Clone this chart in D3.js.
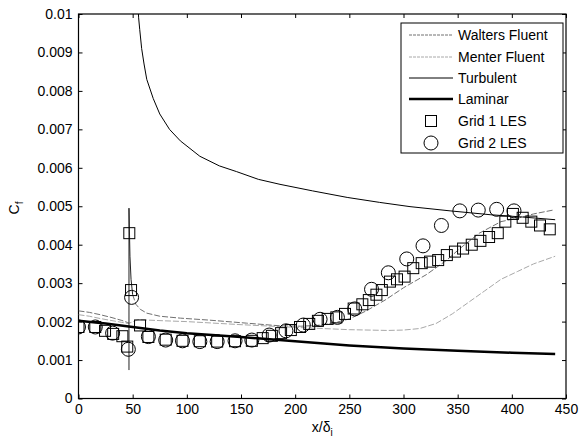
<!DOCTYPE html>
<html>
<head>
<meta charset="utf-8">
<script src="https://cdn.jsdelivr.net/npm/d3@7"></script>
<style>
  body { margin: 0; background: #fff; }
  svg text { font-family: Arial, "Liberation Sans", sans-serif; fill: #000; }
</style>
</head>
<body>
<svg id="chart" width="580" height="443"></svg>
<script>
// Axis ticks
const xTicks = [0, 50, 100, 150, 200, 250, 300, 350, 400, 450];
const yTicks = [0, 0.001, 0.002, 0.003, 0.004, 0.005, 0.006, 0.007, 0.008, 0.009, 0.01];
const yTickLabels = ["0", "0.001", "0.002", "0.003", "0.004", "0.005", "0.006", "0.007", "0.008", "0.009", "0.01"];

// Walters k-kl-omega (Fluent) skin friction, [x/delta_i, Cf]
const waltersFluent = [
  [0, 0.00228], [10, 0.00224], [20, 0.00218], [30, 0.00211], [40, 0.00203], [45, 0.00198], [46.6, 0.00196]
];
const waltersAfterTrip = [
  [50, 0.0027], [53, 0.00245], [57, 0.00232], [63, 0.00222], [75, 0.00214], [94, 0.00209],
  [120, 0.00204], [155, 0.00196], [186, 0.00189], [205, 0.00188], [220, 0.0019], [235, 0.00196],
  [250, 0.00207], [265, 0.00227], [283, 0.00256], [300, 0.00288], [321, 0.00322], [340, 0.0036],
  [352, 0.0039], [370, 0.0043], [390, 0.0046], [407, 0.0047], [420, 0.0048], [438, 0.0049]
];
// Spike at the trip location
const tripSpike = [
  [46.6, 0.00074], [46.6, 0.00495], [47.5, 0.0037], [48.5, 0.0031], [50, 0.0027]
];
// Menter transition SST (Fluent)
const menterFluent = [
  [0, 0.00218], [10, 0.00214], [20, 0.00208], [30, 0.00203], [40, 0.00198], [46, 0.00195],
  [55, 0.00205], [80, 0.00202], [100, 0.002], [150, 0.00192], [200, 0.00185], [250, 0.00179],
  [285, 0.00177], [300, 0.00178], [315, 0.00182], [330, 0.00195], [345, 0.0022], [360, 0.0025],
  [375, 0.0028], [390, 0.0031], [405, 0.0033], [420, 0.0035], [440, 0.0037]
];
// Turbulent correlation
const turbulent = [
  [55, 0.0102], [55.5, 0.0099], [56.5, 0.0096], [58.3, 0.0091], [60.5, 0.0087], [63, 0.0083],
  [69, 0.0078], [75, 0.0074], [84, 0.0070], [94, 0.0067], [112, 0.0063], [130, 0.00605],
  [146, 0.0059], [166, 0.0057], [186, 0.00557], [216, 0.0054], [248, 0.00523], [278, 0.0051],
  [306, 0.00499], [343, 0.00488], [380, 0.00478], [410, 0.00472], [440, 0.00465]
];
// Laminar correlation
const laminar = [
  [0, 0.00202], [25, 0.00195], [50, 0.00186], [75, 0.00177], [100, 0.0017], [150, 0.0016],
  [200, 0.00149], [250, 0.00138], [300, 0.0013], [350, 0.00124], [400, 0.00119], [440, 0.00116]
];
// LES, grid 1
const grid1X = [0, 15.5, 24.5, 32, 40.5, 45, 46.9, 48.5, 56.8, 64.5, 80.5, 96, 112, 128, 144.5, 160,
  170, 178.5, 187, 196, 204.5, 213, 221, 230, 238, 246, 254, 262, 268, 275, 280, 287.5, 294, 301,
  309, 316.8, 324.5, 332, 340, 347.5, 355, 363, 371, 379, 387, 394, 401, 410, 418, 426, 435];
const grid1Cf = [0.00186, 0.00186, 0.00176, 0.00168, 0.00162, 0.00135, 0.0043, 0.00282, 0.0019, 0.0016,
  0.00153, 0.0015, 0.00149, 0.00148, 0.00149, 0.0015,
  0.00157, 0.00163, 0.0017, 0.00178, 0.00186, 0.00194, 0.00202, 0.00207, 0.00211, 0.0022, 0.00234,
  0.00245, 0.00256, 0.0027, 0.00282, 0.00304, 0.0031, 0.00317, 0.00339, 0.00352, 0.00356, 0.0036,
  0.00373, 0.00382, 0.0039, 0.004, 0.0041, 0.0042, 0.0043, 0.0046, 0.0048, 0.0047, 0.0046, 0.0045, 0.0044];
// LES, grid 2
const grid2X = [0, 15.5, 31.5, 46, 49, 64.5, 80.5, 96, 112, 128, 144.5, 160, 176, 191.5, 207.5, 223,
  239, 255, 270.5, 286, 303, 318, 335, 352, 369, 386, 402];
const grid2Cf = [0.00186, 0.00186, 0.0017, 0.00128, 0.00263, 0.00161, 0.00152, 0.0015, 0.00148, 0.00148,
  0.0015, 0.00152, 0.00165, 0.00176, 0.00191, 0.00206, 0.00211, 0.00233, 0.00284, 0.00327, 0.00363,
  0.00397, 0.0045, 0.00488, 0.0049, 0.00492, 0.00488];

const legendLabels = ["Walters Fluent", "Menter Fluent", "Turbulent", "Laminar", "Grid 1 LES", "Grid 2 LES"];

const svg = d3.select("#chart");
const plot = { left: 78.5, right: 566, top: 14, bottom: 398.5 };

const x = d3.scaleLinear().domain([0, 450]).range([plot.left, plot.right]);
const y = d3.scaleLinear().domain([0, 0.01]).range([plot.bottom, plot.top]);

svg.append("rect").attr("width", 580).attr("height", 443).attr("fill", "#fff");

svg.append("clipPath").attr("id", "clip")
  .append("rect")
  .attr("x", plot.left).attr("y", plot.top)
  .attr("width", plot.right - plot.left).attr("height", plot.bottom - plot.top);

const tickLen = 4;
const fontSize = 14;

// Axes: inward ticks on all four sides, labels on bottom and left
const xAxis = svg.append("g").attr("transform", `translate(0,${plot.bottom})`)
  .call(d3.axisBottom(x).tickValues(xTicks).tickSizeInner(-tickLen).tickSizeOuter(0).tickPadding(6)
    .tickFormat(d3.format("d")));
const yAxis = svg.append("g").attr("transform", `translate(${plot.left},0)`)
  .call(d3.axisLeft(y).tickValues(yTicks).tickSizeInner(-tickLen).tickSizeOuter(0).tickPadding(6)
    .tickFormat((d, i) => yTickLabels[i]));
const xTop = svg.append("g").attr("transform", `translate(0,${plot.top})`)
  .call(d3.axisTop(x).tickValues(xTicks).tickSizeInner(-tickLen).tickSizeOuter(0).tickFormat(""));
const yRight = svg.append("g").attr("transform", `translate(${plot.right},0)`)
  .call(d3.axisRight(y).tickValues(yTicks).tickSizeInner(-tickLen).tickSizeOuter(0).tickFormat(""));

[xAxis, yAxis, xTop, yRight].forEach(g => {
  g.select(".domain").remove();
  g.selectAll("line").attr("stroke", "#000").attr("stroke-width", 1);
  g.selectAll("text").attr("font-size", fontSize).attr("font-family", "Arial, 'Liberation Sans', sans-serif");
});

// Plot frame
svg.append("rect")
  .attr("x", plot.left).attr("y", plot.top)
  .attr("width", plot.right - plot.left).attr("height", plot.bottom - plot.top)
  .attr("fill", "none").attr("stroke", "#000").attr("stroke-width", 1.2);

const line = d3.line().x(d => x(d[0])).y(d => y(d[1]));
const g = svg.append("g").attr("clip-path", "url(#clip)");

const styles = {
  walters: { stroke: "#707070", width: 1, dash: "6,2" },
  menter: { stroke: "#a8a8a8", width: 1, dash: "6,2" },
  turbulent: { stroke: "#000", width: 1, dash: null },
  laminar: { stroke: "#000", width: 2.5, dash: null }
};

function drawLine(data, st) {
  g.append("path").datum(data)
    .attr("d", line).attr("fill", "none")
    .attr("stroke", st.stroke).attr("stroke-width", st.width)
    .attr("stroke-dasharray", st.dash);
}
drawLine(menterFluent, styles.menter);
drawLine(waltersFluent, styles.walters);
drawLine(waltersAfterTrip, styles.walters);
drawLine(tripSpike, { stroke: "#222", width: 1, dash: null });
drawLine(turbulent, styles.turbulent);
drawLine(laminar, styles.laminar);

const sq = 11;
g.selectAll("rect.g1").data(d3.zip(grid1X, grid1Cf)).join("rect")
  .attr("class", "g1")
  .attr("x", d => x(d[0]) - sq / 2).attr("y", d => y(d[1]) - sq / 2)
  .attr("width", sq).attr("height", sq)
  .attr("fill", "none").attr("stroke", "#000").attr("stroke-width", 1);

g.selectAll("circle.g2").data(d3.zip(grid2X, grid2Cf)).join("circle")
  .attr("class", "g2")
  .attr("cx", d => x(d[0])).attr("cy", d => y(d[1])).attr("r", 7)
  .attr("fill", "none").attr("stroke", "#000").attr("stroke-width", 1);

// Axis titles
const xLabel = svg.append("text")
  .attr("x", (plot.left + plot.right) / 2).attr("y", 432)
  .attr("text-anchor", "middle").attr("font-size", fontSize);
xLabel.append("tspan").text("x/δ");
xLabel.append("tspan").attr("font-size", 10).attr("dy", 4).text("i");

const yLabel = svg.append("text")
  .attr("transform", "translate(19,208) rotate(-90)")
  .attr("text-anchor", "middle").attr("font-size", fontSize);
yLabel.append("tspan").text("C");
yLabel.append("tspan").attr("font-size", 10).attr("dy", 4).text("f");

// Legend
const lg = svg.append("g");
lg.append("rect").attr("x", 401).attr("y", 23).attr("width", 162).attr("height", 130)
  .attr("fill", "#fff").attr("stroke", "#000").attr("stroke-width", 1);
const rowY = [35, 57, 78, 99, 121, 143];
const lineStyles = [styles.walters, styles.menter, styles.turbulent, styles.laminar];
legendLabels.forEach((label, i) => {
  const cy = rowY[i];
  if (i < 4) {
    const st = lineStyles[i];
    lg.append("line").attr("x1", 409).attr("x2", 453).attr("y1", cy).attr("y2", cy)
      .attr("stroke", st.stroke).attr("stroke-width", st.width)
      .attr("stroke-dasharray", st.dash ? "3,1" : null);
  } else if (i === 4) {
    lg.append("rect").attr("x", 431 - sq / 2).attr("y", cy - sq / 2).attr("width", sq).attr("height", sq)
      .attr("fill", "none").attr("stroke", "#000");
  } else {
    lg.append("circle").attr("cx", 431).attr("cy", cy).attr("r", 7)
      .attr("fill", "none").attr("stroke", "#000");
  }
  lg.append("text").attr("x", 458).attr("y", cy).attr("dy", "0.36em")
    .attr("font-size", fontSize).text(label);
});
</script>
</body>
</html>
